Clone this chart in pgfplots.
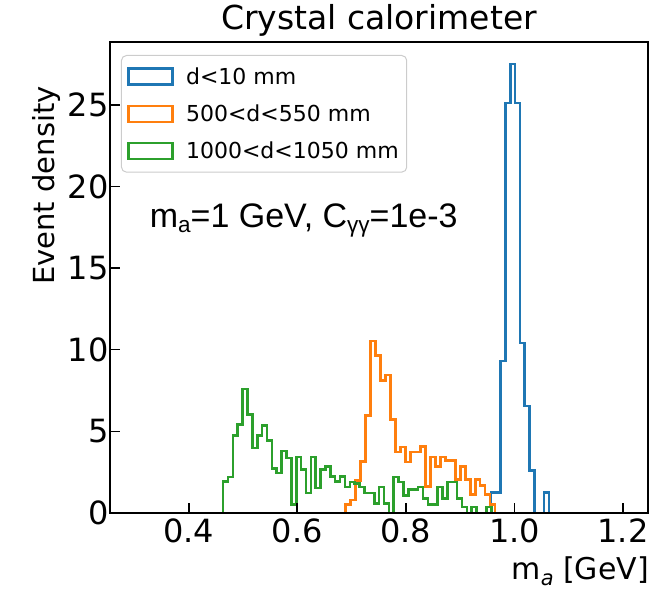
\documentclass[border=0pt]{standalone}
\usepackage{fontspec}
\setmainfont{DejaVu Sans}
\newfontfamily\annofont{Liberation Sans}
\usepackage{pgfplots}
\pgfplotsset{compat=1.18}
\usetikzlibrary{calc}

\definecolor{tabblue}{HTML}{1F77B4}
\definecolor{taborange}{HTML}{FF7F0E}
\definecolor{tabgreen}{HTML}{2CA02C}

\newcommand{\annosub}[1]{\raisebox{-5.5pt}{\fontsize{22.5}{24}\selectfont #1}}

\begin{document}
\begin{tikzpicture}
\begin{axis}[
  name=ax,
  scale only axis,
  width=538pt, height=471pt,
  xmin=0.255, xmax=1.246,
  ymin=0, ymax=28.84,
  axis on top,
  axis line style={line width=1.6pt},
  tick pos=left,
  tick align=inside,
  major tick length=10pt,
  every tick/.style={black, line width=1.6pt},
  xtick={0.4,0.6,0.8,1.0,1.2},
  ytick={0,5,10,15,20,25},
  /pgf/number format/assume math mode=true,
  tick label style={font=\fontsize{32}{38}\selectfont},
  xticklabel style={/pgf/number format/fixed, /pgf/number format/fixed zerofill, /pgf/number format/precision=1, yshift=-2pt},
  yticklabel style={xshift=2pt},
  title={Crystal calorimeter},
  title style={font=\fontsize{33}{40}\selectfont, at={(0.5,1)}, anchor=base, yshift=6pt},
  legend cell align=left,
  legend image code/.code={\draw[#1, fill=none, sharp corners] (0pt,-8pt) rectangle (44pt,8pt);},
  legend style={at={(0.0204,0.9724)}, anchor=north west,
    draw=black!20, line width=1pt, rounded corners=5pt,
    fill=white, fill opacity=0.8, text opacity=1,
    font=\fontsize{22}{27}\selectfont,
    inner xsep=6pt, inner ysep=10pt, row sep=15pt, column sep=10pt},
]

% d < 10 mm
\addplot[const plot, tabblue, line width=2.6pt] coordinates {
  (0.9567,0) (0.9567,1.24) (0.9656,1.24) (0.9745,9.3) (0.9834,25.1)
  (0.9923,27.5) (1.0012,25.1) (1.0101,10.4) (1.0190,6.55) (1.0279,2.6)
  (1.0368,0) (1.0457,0) (1.0546,1.24) (1.0635,0)
};
\addlegendentry{d<10 mm}

% 500 < d < 550 mm
\addplot[const plot, taborange, line width=2.6pt] coordinates {
  (0.6885,0) (0.6885,0.53) (0.6977,0.8) (0.7069,2.0) (0.7161,3.17)
  (0.7253,5.98) (0.7345,10.54) (0.7437,9.66) (0.7529,8.13) (0.7621,8.44)
  (0.7713,5.72) (0.7805,3.74) (0.7897,4.04) (0.7989,3.13) (0.8081,3.74)
  (0.8173,3.74) (0.8265,4.08) (0.8357,1.63) (0.8449,3.43) (0.8541,2.86)
  (0.8633,3.43) (0.8725,3.23) (0.8817,3.23) (0.8909,2.04) (0.9001,2.86)
  (0.9093,2.04) (0.9185,1.14) (0.9277,2.04) (0.9369,1.7) (0.9461,1.14)
  (0.9553,0.53) (0.9645,0)
};
\addlegendentry{500<d<550 mm}

% 1000 < d < 1050 mm
\addplot[const plot, tabgreen, line width=2.6pt] coordinates {
  (0.4633,0) (0.4633,1.94) (0.4723,2.2) (0.4813,4.74) (0.4902,5.41)
  (0.4992,7.6) (0.5082,6.03) (0.5172,3.98) (0.5262,4.74) (0.5351,5.35)
  (0.5441,4.45) (0.5531,2.74) (0.5621,2.45) (0.5711,3.8) (0.5800,3.37)
  (0.5890,0.51) (0.5980,3.43) (0.6070,2.66) (0.6160,1.23) (0.6249,3.43)
  (0.6339,1.53) (0.6429,2.66) (0.6519,2.86) (0.6609,2.25) (0.6698,1.94)
  (0.6788,2.25) (0.6878,1.6) (0.6968,1.9) (0.7058,1.8) (0.7147,1.6)
  (0.7237,1.23) (0.7327,1.23) (0.7417,0.57) (0.7507,1.6) (0.7596,0.57)
  (0.7686,0) (0.7776,2.2) (0.7866,1.9) (0.7956,1.08) (0.8045,1.43)
  (0.8135,1.43) (0.8225,1.6) (0.8315,0.88) (0.8405,0.53) (0.8494,0.53)
  (0.8584,1.6) (0.8674,0.88) (0.8764,1.9) (0.8854,1.9) (0.8943,0.88)
  (0.9033,0.37) (0.9123,0) (0.9213,0.37) (0.9303,0) (0.9392,0)
  (0.9482,0.37) (0.9572,0)
};
\addlegendentry{1000<d<1050 mm}

\node[anchor=base west, inner sep=0pt, font=\annofont\fontsize{34}{40}\selectfont]
  at (axis cs:0.328,17.5) {m\annosub{a}=1 GeV, C\annosub{γγ}=1e-3};
\end{axis}

\node[rotate=90, anchor=base, inner sep=0pt, font=\fontsize{29}{34}\selectfont]
  at ($(ax.south west)+(-55pt,327.5pt)$) {Event density};
\node[anchor=base east, inner sep=0pt, font=\fontsize{30}{36}\selectfont]
  at ($(ax.south east)+(1pt,-66pt)$) {m\raisebox{-6pt}{\fontsize{21}{22}\selectfont\itshape a} [GeV]};

\pgfresetboundingbox
\path ($(ax.south west)+(-110pt,-77pt)$) rectangle ($(ax.north east)+(17pt,42pt)$);
\end{tikzpicture}
\end{document}
